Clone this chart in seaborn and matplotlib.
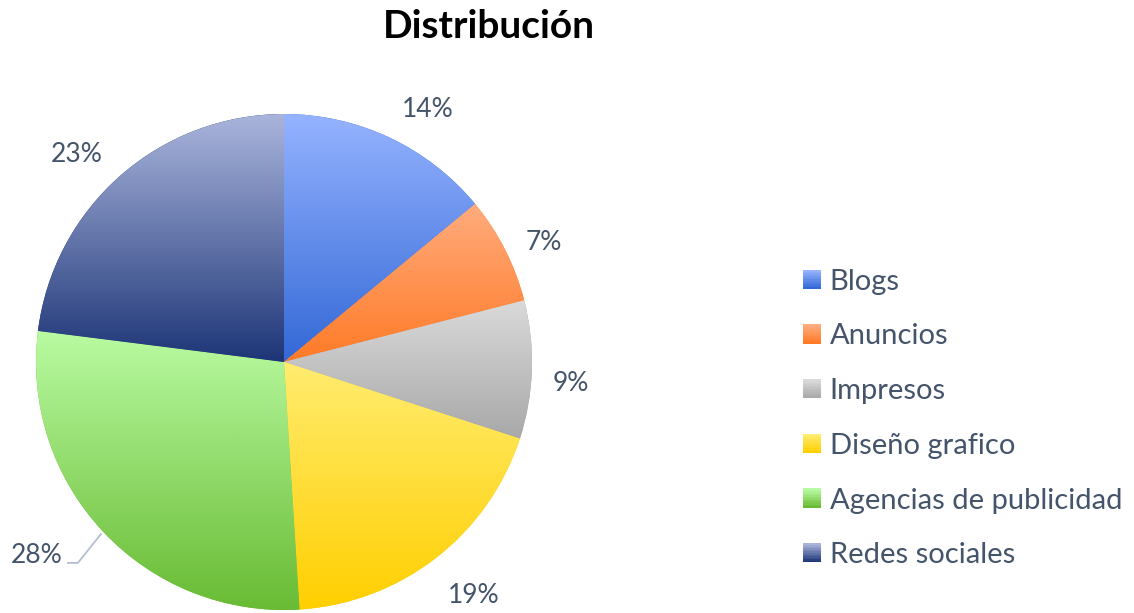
import numpy as np
import matplotlib
matplotlib.use("Agg")
import matplotlib.pyplot as plt
import seaborn as sns
from matplotlib.colors import LinearSegmentedColormap, to_rgb
from matplotlib.patches import Patch, Rectangle
from matplotlib.legend_handler import HandlerBase

categories = ["Blogs", "Anuncios", "Impresos", "Diseño grafico",
              "Agencias de publicidad", "Redes sociales"]
values = [14, 7, 9, 19, 28, 23]
pct_labels = ["14%", "7%", "9%", "19%", "28%", "23%"]
top_colors = ["#95B3FF", "#FFAC7E", "#DADADA", "#FFEC70", "#B9FBA2", "#AAB5DC"]
bottom_colors = ["#3368D6", "#FF7A26", "#A8A8A8", "#FFCF00", "#69BB34", "#1D3577"]

# label anchor positions (data units, pie radius = 1), baseline aligned
label_pos = [(0.581, 0.988), (1.048, 0.452), (1.157, -0.117),
             (0.766, -0.972), (-0.895, -0.810), (-0.835, 0.806)]

sns.set_theme(style="white")
plt.rcParams['font.family'] = ['Lato', 'DejaVu Sans']
text_color = "#44546A"


class GradHandler(HandlerBase):
    def __init__(self, top, bottom, n=12):
        super().__init__()
        self.top, self.bottom, self.n = to_rgb(top), to_rgb(bottom), n

    def create_artists(self, legend, orig_handle, xdescent, ydescent,
                       width, height, fontsize, trans):
        arts = []
        for k in range(self.n):
            t = k / (self.n - 1)
            col = tuple(b + (a - b) * t for a, b in zip(self.top, self.bottom))
            rect = Rectangle((-xdescent, -ydescent + height * k / self.n),
                             width, height / self.n + 0.3,
                             facecolor=col, edgecolor="none", transform=trans)
            arts.append(rect)
        return arts


W, H = 1134, 613
fig = plt.figure(figsize=(W / 100, H / 100), dpi=100)
cx, cy, r = 284, 362, 248
ax = fig.add_axes([(cx - r) / W, (H - cy - r) / H, 2 * r / W, 2 * r / H])

wedges, _ = ax.pie(values, startangle=90, counterclock=False, radius=1,
                   colors=bottom_colors, wedgeprops=dict(linewidth=0, edgecolor="none"))

for w, c_top, c_bot in zip(wedges, top_colors, bottom_colors):
    ext = w.get_path().get_extents()
    cmap = LinearSegmentedColormap.from_list("g", [c_bot, c_top])
    grad = np.linspace(0, 1, 256).reshape(-1, 1)
    im = ax.imshow(grad, extent=[ext.x0, ext.x1, ext.y0, ext.y1], origin="lower",
                   cmap=cmap, aspect="auto", zorder=2, interpolation="bilinear")
    im.set_clip_path(w)

ax.set_xlim(-1, 1)
ax.set_ylim(-1, 1)
ax.set_aspect("equal")
ax.axis("off")

for i, (w, lab, (lx, ly)) in enumerate(zip(wedges, pct_labels, label_pos)):
    if i == 4:
        ang = np.deg2rad((w.theta1 + w.theta2) / 2)
        ex, ey = np.cos(ang) * 1.01, np.sin(ang) * 1.01
        elbow_x = lx + 0.064
        ax.plot([lx + 0.02, elbow_x, ex], [ly, ly, ey], color="#B4BFD0",
                lw=1.3, clip_on=False, zorder=1, solid_capstyle="butt")
        ax.text(lx, ly, lab, ha="right", va="baseline", fontsize=19,
                color=text_color, clip_on=False)
    else:
        ax.text(lx, ly, lab, ha="center", va="baseline", fontsize=19,
                color=text_color, clip_on=False)

fig.text(489 / W, 1 - 38 / H, "Distribución", ha="center", va="baseline",
         fontsize=28, fontweight="bold", color="black")

handles = [Patch(facecolor=c, edgecolor="none") for c in bottom_colors]
hmap = {h: GradHandler(t, b) for h, t, b in zip(handles, top_colors, bottom_colors)}
fig.legend(handles, categories, loc="upper left", handler_map=hmap,
           bbox_to_anchor=(791 / W, 1 - 257 / H), frameon=False,
           fontsize=21, labelcolor=text_color, handlelength=0.62, handleheight=0.62,
           handletextpad=0.31, labelspacing=0.985, borderaxespad=0)

fig.savefig("out.png", dpi=100, facecolor="white")
